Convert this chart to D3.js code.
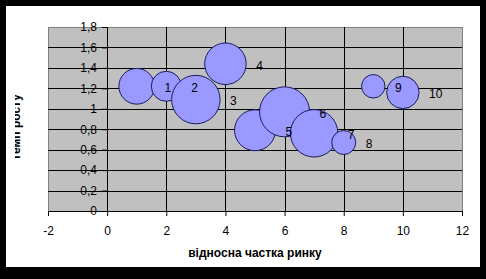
<!doctype html>
<html>
<head>
<meta charset="utf-8">
<script src="https://d3js.org/d3.v7.min.js"></script>
<style>
  body { margin: 0; background: #000; }
  svg { display: block; }
  text { font-family: "Liberation Sans", Arial, sans-serif; fill: #000; }
</style>
</head>
<body>
<svg width="486" height="279"></svg>
<script>
// data
var shares = [1, 2, 3, 4, 5, 6, 7, 8, 9, 10];
var growth = [1.22, 1.22, 1.09, 1.44, 0.79, 0.97, 0.76, 0.67, 1.22, 1.16];
var sizes = [51, 36, 94, 69, 67, 100, 90, 23, 22, 42];
var pointLabels = ["1", "2", "3", "4", "5", "6", "7", "8", "9", "10"];
var xTicks = [-2, 0, 2, 4, 6, 8, 10, 12];
var yTicks = [0, 0.2, 0.4, 0.6, 0.8, 1, 1.2, 1.4, 1.6, 1.8];
var yTickLabels = ["0", "0,2", "0,4", "0,6", "0,8", "1", "1,2", "1,4", "1,6", "1,8"];
var xTitle = "відносна частка ринку";
var yTitle = "темп росту";

var svg = d3.select("svg"),
    pLeft = 48, pRight = 462, pTop = 27, pBottom = 211;

// white chart area inside the black frame
svg.append("rect").attr("x", 6).attr("y", 6).attr("width", 474).attr("height", 261).attr("fill", "#fff");

var x = d3.scaleLinear().domain([-2, 12]).range([pLeft, pRight]),
    y = d3.scaleLinear().domain([0, 1.8]).range([pBottom, pTop]),
    r = d3.scaleSqrt().domain([0, 100]).range([0, 25]);

// plot area
svg.append("rect")
   .attr("x", pLeft + 0.5).attr("y", pTop + 0.5)
   .attr("width", pRight - pLeft).attr("height", pBottom - pTop)
   .attr("fill", "#c0c0c0").attr("stroke", "#808080");

// gridlines
svg.append("g").selectAll("line")
   .data(yTicks.slice(1, -1))
   .enter().append("line")
   .attr("x1", pLeft).attr("x2", pRight)
   .attr("y1", function(d) { return Math.round(y(d)) + 0.5; })
   .attr("y2", function(d) { return Math.round(y(d)) + 0.5; })
   .attr("stroke", "#000");
svg.append("g").selectAll("line")
   .data(xTicks.slice(1, -1))
   .enter().append("line")
   .attr("y1", pTop).attr("y2", pBottom)
   .attr("x1", function(d) { return Math.round(x(d)) + 0.5; })
   .attr("x2", function(d) { return Math.round(x(d)) + 0.5; })
   .attr("stroke", "#000");

// axes
var xAxis = svg.append("g")
   .attr("transform", "translate(0," + pBottom + ")")
   .call(d3.axisBottom(x).tickValues(xTicks).tickSize(5).tickSizeOuter(0).tickPadding(10)
         .tickFormat(function(d) { return String(d); }));
var yAxis = svg.append("g")
   .attr("transform", "translate(" + Math.round(x(0)) + ",0)")
   .call(d3.axisLeft(y).tickValues(yTicks).tickSize(5).tickSizeOuter(0).tickPadding(5)
         .tickFormat(function(d, i) { return yTickLabels[i]; }));
[xAxis, yAxis].forEach(function(a) {
  a.selectAll("text").style("font-size", "12px").attr("fill", "#000")
   .style("font-family", "'Liberation Sans', Arial, sans-serif");
  a.selectAll("line, path").attr("stroke", "#000");
});

// bubbles
var idx = d3.range(shares.length);
svg.append("g").selectAll("circle")
   .data(idx)
   .enter().append("circle")
   .attr("cx", function(i) { return x(shares[i]); })
   .attr("cy", function(i) { return y(growth[i]); })
   .attr("r", function(i) { return r(sizes[i]); })
   .attr("fill", "#9999ff")
   .attr("stroke", "#1a1a5e")
   .attr("stroke-width", 1);

// labels to the right of each bubble
svg.append("g").selectAll("text")
   .data(idx)
   .enter().append("text")
   .attr("x", function(i) { return x(shares[i]) + r(sizes[i]) + 10; })
   .attr("y", function(i) { return y(growth[i]) + 1.5; })
   .attr("dy", "0.35em")
   .style("font-size", "12px")
   .text(function(i) { return pointLabels[i]; });

// titles
svg.append("text")
   .attr("x", (pLeft + pRight) / 2).attr("y", 257)
   .attr("text-anchor", "middle")
   .style("font-size", "12px").style("font-weight", "bold")
   .text(xTitle);

// y title is cut off on the left in the original
svg.append("clipPath").attr("id", "yclip")
   .append("rect").attr("x", 15).attr("y", 6).attr("width", 20).attr("height", 261);
svg.append("g").attr("clip-path", "url(#yclip)")
   .append("text")
   .attr("transform", "translate(19.5,127) rotate(-90)")
   .attr("text-anchor", "middle")
   .style("font-size", "12px").style("font-weight", "bold")
   .text(yTitle);
</script>
</body>
</html>
